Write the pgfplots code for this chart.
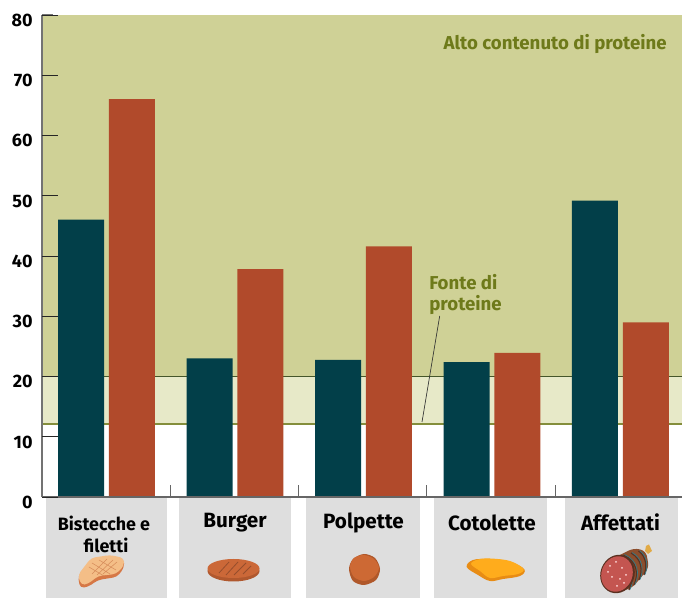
\documentclass[border=0pt]{standalone}
\usepackage{fontspec}
\setmainfont{Fira Sans}
\usepackage{pgfplots}
\pgfplotsset{compat=1.18}
\definecolor{bandhigh}{HTML}{CFD196}
\definecolor{bandsource}{HTML}{E7E9C8}
\definecolor{deepteal}{HTML}{023F49}
\definecolor{rust}{HTML}{B14A2B}
\definecolor{olivetext}{HTML}{6E7A1A}
\definecolor{panel}{HTML}{DEDEDE}
\definecolor{bandrule}{HTML}{45562A}
\definecolor{steakedge}{RGB}{214,120,70}
\definecolor{steakmeat}{RGB}{244,190,135}
\definecolor{steakgrill}{RGB}{214,140,90}
\definecolor{burgerside}{RGB}{176,88,46}
\definecolor{burgertop}{RGB}{203,104,56}
\definecolor{burgergrill}{RGB}{150,78,44}
\definecolor{ballside}{RGB}{176,88,42}
\definecolor{balltop}{RGB}{205,105,52}
\definecolor{cutletside}{RGB}{232,140,20}
\definecolor{cutlettop}{RGB}{255,172,28}
\definecolor{salamiknot}{RGB}{225,170,70}
\definecolor{salamiskin}{RGB}{140,78,45}
\definecolor{salamirim}{RGB}{90,48,32}
\definecolor{salamistring}{RGB}{45,125,140}
\definecolor{salamicut}{RGB}{196,85,80}
\begin{document}
\begin{tikzpicture}[x=0.75pt,y=0.75pt]
\path[use as bounding box] (0,0) rectangle (682,598);
\begin{axis}[
  at={(31.5pt,75.75pt)}, anchor=south west,
  scale only axis, width=480pt, height=361.5pt,
  xmin=-0.502, xmax=4.479, ymin=0, ymax=80,
  axis lines=left, axis line style={draw=none},
  axis on top,
  clip=false,
  ytick={0,10,...,80},
  xtick=\empty,
  tick align=inside,
  major tick length=12pt,
  y tick style={draw=black!85, line width=0.6pt},
  yticklabel style={font=\fontsize{13.5}{13.5}\selectfont\bfseries, xshift=-3.5pt, yshift=-4pt},
  /pgf/number format/assume math mode=true,
]
% protein bands
\addplot[fill=bandhigh, draw=none, forget plot] coordinates {(-0.502,20) (-0.502,80) (4.479,80) (4.479,20)} --cycle;
\addplot[fill=bandsource, draw=none, forget plot] coordinates {(-0.502,12.1) (-0.502,20) (4.479,20) (4.479,12.1)} --cycle;
\addplot[draw=bandrule, line width=1.1pt, forget plot] coordinates {(-0.502,20) (4.479,20)};
\addplot[draw=olivetext!85, line width=1.1pt, forget plot] coordinates {(-0.502,12.1) (4.479,12.1)};
% per 100 g values by product group
\addplot[ybar, bar width=34.5pt, bar shift=-19.1pt, fill=deepteal, draw=none] coordinates {(0,46.05) (1,23) (2,22.75) (3,22.4) (4,49.2)};
\addplot[ybar, bar width=34.5pt, bar shift=19.1pt, fill=rust, draw=none] coordinates {(0,66.05) (1,37.8) (2,41.6) (3,23.9) (4,29)};
% axis lines and separators between groups
\addplot[draw=gray!90!black, line width=1.1pt, forget plot] coordinates {(-0.502,0) (-0.502,80)};
\addplot[draw=gray!90!black, line width=0.8pt, forget plot] coordinates {(-0.502,80) (-0.42,80)};
\addplot[draw=black!60, line width=0.8pt, forget plot] coordinates {(-0.502,0) (4.479,0)};
\addplot[draw=black!60, line width=0.7pt, forget plot] coordinates {(0.494,0) (0.494,2)};
\addplot[draw=black!60, line width=0.7pt, forget plot] coordinates {(1.494,0) (1.494,2)};
\addplot[draw=black!60, line width=0.7pt, forget plot] coordinates {(2.494,0) (2.494,2)};
\addplot[draw=black!60, line width=0.7pt, forget plot] coordinates {(3.494,0) (3.494,2)};
\end{axis}
% everything below uses coordinates measured from the top left
\begin{scope}[x=0.75pt,y=-0.75pt,shift={(0,-598)}]
\fill[panel] (46,498) rectangle (166.5,598);
\fill[panel] (179,498) rectangle (291,598);
\fill[panel] (306,498) rectangle (420,598);
\fill[panel] (434,498) rectangle (547,598);
\fill[panel] (565,498) rectangle (678,598);
\def\lab{\fontsize{15.5}{15.5}\selectfont\bfseries}
\def\labs{\fontsize{13.4}{13.4}\selectfont\bfseries}
\def\labo{\fontsize{14}{14}\selectfont\bfseries}
\node[font=\labs] at (104,523) {Bistecche e};
\node[font=\labs] at (106,545) {filetti};
\node[font=\lab] at (235,522.5) {Burger};
\node[font=\lab] at (363.5,522.5) {Polpette};
\node[font=\lab] at (492,522.5) {Cotolette};
\node[font=\lab] at (620.5,522.5) {Affettati};
\node[font=\labo, text=olivetext, anchor=east, inner sep=0pt] at (667,44) {Alto contenuto di proteine};
\node[font=\labo, text=olivetext, anchor=west, inner sep=0pt] at (429,282) {Fonte di};
\node[font=\labo, text=olivetext, anchor=west, inner sep=0pt] at (429,305) {proteine};
\draw[black!80, line width=0.5pt] (439.7,316) -- (422,422);
% steak
\fill[rounded corners=3pt, steakedge] (124,559) -- (110,556) -- (91,560) -- (78,576) -- (80,588) -- (88,587) -- (98,580) -- (117,577) -- (124,568) -- cycle;
\fill[rounded corners=3pt, steakmeat] (124,558) -- (110,555) -- (91,558) -- (78,575) -- (81,585) -- (88,584) -- (98,576) -- (116,574) -- (124,566) -- cycle;
\draw[steakgrill, line width=0.4pt] (92,574)--(107,559) (97,575)--(113,560) (103,574)--(117,562) (92,563)--(110,574) (89,567)--(104,576) (99,560)--(116,570);
% burger
\fill[burgerside] (233.5,571) ellipse (26 and 10.5);
\fill[burgertop] (233.5,568.5) ellipse (26 and 9.5);
\draw[burgergrill, line width=0.6pt] (219,573)--(229,562) (226,575)--(238,562) (234,575)--(246,563) (243,574)--(251,566);
% meatball
\fill[ballside] plot[smooth cycle, tension=0.5] coordinates {(349,569) (353,559) (364,554) (375,558) (380,569) (376,580) (364,585) (353,581)};
\fill[balltop] plot[smooth cycle, tension=0.5] coordinates {(350,567) (354,558) (364,555) (374,559) (379,568) (374,577) (364,581) (354,577)};
% cutlet
\fill[cutletside] plot[smooth cycle, tension=0.6] coordinates {(466.7,567) (473,560) (490,559) (510,561.7) (524.3,569.3) (520,576) (503,579) (490,581) (478,575)};
\fill[cutlettop] plot[smooth cycle, tension=0.6] coordinates {(471,564) (478,559.5) (490,558.5) (510,561) (523.5,569) (518,574) (503,576) (490,578) (480,571)};
% salami
\fill[salamiknot] (645,551) -- (646,546) -- (649,544.5) -- (652,551) -- (648,554) -- cycle;
\fill[salamiskin, rounded corners=4pt] (608,561) -- (634,548) -- (646,551) -- (649,568) -- (632,588) -- (618,592) -- cycle;
\foreach \k in {0,1,2,3}{
  \draw[salamirim, line width=0.9pt] (616+\k*7.5,557-\k*2) .. controls (632+\k*5,563-\k*2) and (635+\k*4,577-\k*3) .. (629+\k*5,590-\k*5);
  \draw[salamistring, line width=0.5pt] (617+\k*7.5,556.5-\k*2) .. controls (633+\k*5,562.5-\k*2) and (636+\k*4,576.5-\k*3) .. (630+\k*5,589.5-\k*5);
}
\fill[salamirim, rotate around={-20:(617.5,574)}] (617.5,574) ellipse (17 and 19.5);
\fill[salamicut, rotate around={-20:(617,574)}] (617,574) ellipse (15.5 and 18);
\foreach \p in {(610,566),(616,562),(622,568),(612,577),(620,579),(626,575),(617,586),(608,572),(624,583)}{
  \fill[white!85!red] \p circle (1);
}
\end{scope}
\end{tikzpicture}
\end{document}
